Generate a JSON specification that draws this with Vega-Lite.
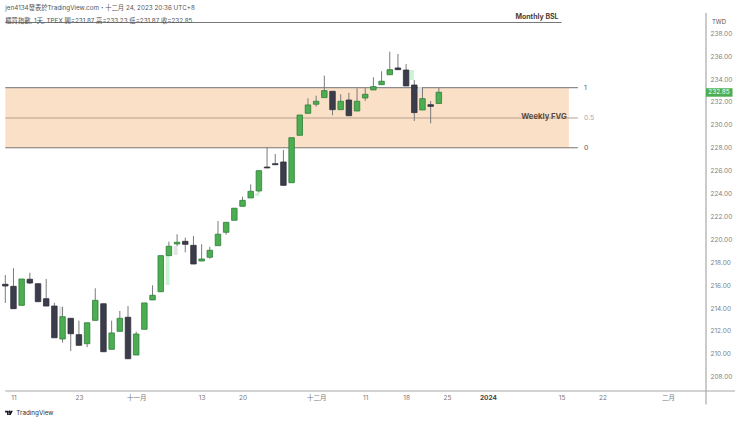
{
  "$schema": "https://vega.github.io/schema/vega-lite/v6.json",
  "width": 706,
  "height": 378,
  "autosize": "none",
  "padding": {"left": 0, "top": 13, "right": 34, "bottom": 31},
  "background": "#ffffff",
  "config": {"view": {"stroke": null}, "text": {"font": "Inter, 'Noto Sans CJK TC'"}},
  "resolve": {"scale": {"color": "independent", "strokeWidth": "independent"}},
  "datasets": {
    "candles": [
      {"i":0,"open":216.08,"high":216.89,"low":214.45,"close":215.93},
      {"i":1,"open":215.90,"high":217.48,"low":213.95,"close":213.95},
      {"i":2,"open":214.24,"high":216.54,"low":214.24,"close":216.54},
      {"i":3,"open":216.52,"high":217.09,"low":216.10,"close":216.19},
      {"i":4,"open":216.13,"high":216.13,"low":214.56,"close":214.56},
      {"i":5,"open":214.82,"high":216.54,"low":214.18,"close":214.18},
      {"i":6,"open":214.18,"high":214.47,"low":211.41,"close":211.41},
      {"i":7,"open":211.30,"high":214.12,"low":210.98,"close":213.25},
      {"i":8,"open":213.11,"high":213.11,"low":210.25,"close":211.76},
      {"i":9,"open":211.68,"high":212.90,"low":210.75,"close":210.75},
      {"i":10,"open":210.89,"high":212.72,"low":210.58,"close":212.72},
      {"i":11,"open":212.93,"high":215.73,"low":212.93,"close":214.68},
      {"i":12,"open":214.38,"high":214.38,"low":210.19,"close":210.19},
      {"i":13,"open":210.40,"high":212.90,"low":210.40,"close":211.83},
      {"i":14,"open":211.97,"high":213.75,"low":211.97,"close":213.11},
      {"i":15,"open":213.20,"high":214.18,"low":209.58,"close":209.58},
      {"i":16,"open":209.90,"high":211.94,"low":209.90,"close":211.74},
      {"i":17,"open":212.15,"high":214.45,"low":212.15,"close":214.45},
      {"i":18,"open":214.71,"high":215.99,"low":214.71,"close":215.12},
      {"i":19,"open":215.43,"high":218.58,"low":215.43,"close":218.58},
      {"i":20,"open":218.58,"high":219.80,"low":218.58,"close":219.40},
      {"i":21,"open":219.60,"high":220.45,"low":219.42,"close":219.75},
      {"i":22,"open":219.83,"high":220.15,"low":218.87,"close":219.57},
      {"i":23,"open":219.48,"high":220.30,"low":217.85,"close":217.85},
      {"i":24,"open":218.11,"high":219.57,"low":218.11,"close":218.29},
      {"i":25,"open":218.44,"high":219.36,"low":218.31,"close":219.05},
      {"i":26,"open":219.45,"high":221.61,"low":219.45,"close":220.45},
      {"i":27,"open":220.62,"high":221.49,"low":220.41,"close":221.49},
      {"i":28,"open":221.67,"high":222.72,"low":221.67,"close":222.72},
      {"i":29,"open":222.89,"high":223.73,"low":222.89,"close":223.41},
      {"i":30,"open":223.62,"high":224.81,"low":223.62,"close":224.20},
      {"i":31,"open":224.23,"high":226.00,"low":224.08,"close":226.00},
      {"i":32,"open":226.32,"high":228.04,"low":226.24,"close":226.24},
      {"i":33,"open":226.61,"high":227.46,"low":226.52,"close":226.52},
      {"i":34,"open":226.76,"high":227.81,"low":224.72,"close":224.72},
      {"i":35,"open":224.95,"high":228.88,"low":224.95,"close":228.88},
      {"i":36,"open":229.09,"high":230.86,"low":229.09,"close":230.86},
      {"i":37,"open":231.01,"high":232.32,"low":231.01,"close":231.74},
      {"i":38,"open":231.80,"high":232.55,"low":231.59,"close":232.06},
      {"i":39,"open":232.38,"high":234.30,"low":232.38,"close":232.99},
      {"i":40,"open":232.93,"high":232.93,"low":230.84,"close":231.33},
      {"i":41,"open":231.33,"high":232.67,"low":231.33,"close":232.06},
      {"i":42,"open":232.17,"high":232.79,"low":230.80,"close":230.80},
      {"i":43,"open":231.21,"high":233.20,"low":231.21,"close":232.06},
      {"i":44,"open":232.35,"high":233.25,"low":232.09,"close":232.67},
      {"i":45,"open":233.05,"high":234.16,"low":233.05,"close":233.34},
      {"i":46,"open":233.51,"high":234.68,"low":233.51,"close":233.81},
      {"i":47,"open":234.38,"high":236.39,"low":234.38,"close":234.82},
      {"i":48,"open":234.97,"high":236.19,"low":234.82,"close":234.82},
      {"i":49,"open":234.79,"high":235.32,"low":233.40,"close":233.40},
      {"i":50,"open":233.48,"high":233.92,"low":230.34,"close":231.07},
      {"i":51,"open":231.30,"high":233.25,"low":231.30,"close":232.29},
      {"i":52,"open":231.76,"high":232.09,"low":230.14,"close":231.62},
      {"i":53,"open":231.87,"high":233.23,"low":231.87,"close":232.85}
    ],
    "ghosts": [
      {"i":19.85,"top":218.58,"bottom":216.02,"tone":"green"},
      {"i":30.8,"top":224.05,"bottom":223.79,"tone":"green"},
      {"i":49.7,"top":234.79,"bottom":233.92,"tone":"green"},
      {"i":6.8,"top":214.12,"bottom":213.25,"tone":"gray"},
      {"i":20.83,"top":219.42,"bottom":218.64,"tone":"gray"},
      {"i":50.7,"top":233.3,"bottom":232.79,"tone":"gray"}
    ]
  },
  "encoding": {
    "x": {
      "field": "i",
      "type": "quantitative",
      "scale": {"domain": [-0.648, 85.66], "nice": false, "zero": false, "padding": 0},
      "axis": {
        "title": null,
        "grid": false,
        "domain": false,
        "ticks": false,
        "values": [1, 9, 16, 24, 29, 38, 44, 49, 54, 59, 68, 73, 81],
        "labelExpr": "{'1':'11','9':'23','16':'十一月','24':'13','29':'20','38':'十二月','44':'11','49':'18','54':'25','59':'2024','68':'15','73':'22','81':'二月'}[datum.value]",
        "labelFont": "Inter, 'Noto Sans CJK TC'",
        "labelFontSize": 6.5,
        "labelColor": {"condition": {"test": "datum.value == 59", "value": "#444444"}, "value": "#777777"},
        "labelFontWeight": {"condition": {"test": "datum.value == 59", "value": "bold"}, "value": "normal"},
        "labelPadding": 3,
        "labelOverlap": false,
        "labelFlush": false,
        "labelBound": false
      }
    },
    "y": {
      "type": "quantitative",
      "scale": {"domain": [206.76, 239.77], "nice": false, "zero": false, "padding": 0},
      "axis": {
        "title": null,
        "orient": "right",
        "grid": false,
        "domain": false,
        "ticks": false,
        "values": [208, 210, 212, 214, 216, 218, 220, 222, 224, 226, 228, 230, 232, 234, 236, 238],
        "format": ".2f",
        "labelFont": "Inter, 'Noto Sans CJK TC'",
        "labelFontSize": 6.5,
        "labelColor": "#808080",
        "labelPadding": 4
      }
    }
  },
  "layer": [
    {
      "data": {"values": [{"i": 0, "end": 68.9, "top": 233.25, "bottom": 228}]},
      "mark": {"type": "rect", "color": "#fbe0c8"},
      "encoding": {
        "x2": {"field": "end"},
        "y": {"field": "top"},
        "y2": {"field": "bottom"}
      }
    },
    {
      "data": {"values": [
        {"i": 0, "end": 70, "level": 233.25, "name": "1"},
        {"i": 0, "end": 70, "level": 230.6, "name": "0.5"},
        {"i": 0, "end": 70, "level": 228, "name": "0"},
        {"i": 0, "end": 68, "level": 238.94, "name": "bsl"}
      ]},
      "mark": {"type": "rule"},
      "encoding": {
        "x2": {"field": "end"},
        "y": {"field": "level"},
        "color": {
          "field": "name",
          "type": "nominal",
          "legend": null,
          "scale": {"domain": ["1", "0.5", "0", "bsl"], "range": ["#8c8c8c", "#b89f8c", "#7d746c", "#555555"]}
        },
        "strokeWidth": {
          "field": "name",
          "type": "nominal",
          "legend": null,
          "scale": {"domain": ["1", "0.5", "0", "bsl"], "range": [1.4, 0.8, 1.2, 1]}
        }
      }
    },
    {
      "data": {"values": [
        {"i": 0, "end": 89.2, "level": 206.76},
        {"i": 85.66, "end": 85.66, "level": 239.77, "level2": 205.58}
      ]},
      "mark": {"type": "rule", "color": "#a8a8a8", "strokeWidth": 1.2},
      "encoding": {
        "x2": {"field": "end"},
        "y": {"field": "level"},
        "y2": {"field": "level2"}
      }
    },
    {
      "data": {"name": "ghosts"},
      "mark": {"type": "bar", "size": 4},
      "encoding": {
        "y": {"field": "top"},
        "y2": {"field": "bottom"},
        "color": {
          "field": "tone",
          "type": "nominal",
          "legend": null,
          "scale": {"domain": ["green", "gray"], "range": ["#cdf3d6", "#e4e4e4"]}
        }
      }
    },
    {
      "data": {"name": "candles"},
      "mark": {"type": "rule", "color": "#7b7b7b", "strokeWidth": 1},
      "encoding": {
        "y": {"field": "high"},
        "y2": {"field": "low"}
      }
    },
    {
      "data": {"name": "candles"},
      "mark": {"type": "bar", "size": 5.5, "strokeWidth": 0.8},
      "encoding": {
        "y": {"field": "open"},
        "y2": {"field": "close"},
        "color": {"condition": {"test": "datum.close >= datum.open", "value": "#4cae50"}, "value": "#3b3d4b"},
        "stroke": {"condition": {"test": "datum.close >= datum.open", "value": "#2f7d3b"}, "value": "#2e2f3a"}
      }
    },
    {
      "data": {"values": [{"i": 85.66, "end": 88.9, "top": 233.2, "bottom": 232.46}]},
      "mark": {"type": "rect", "color": "#4cae50"},
      "encoding": {
        "x2": {"field": "end"},
        "y": {"field": "top"},
        "y2": {"field": "bottom"}
      }
    },
    {
      "data": {"values": [
        {"i": 0, "level": 240.21, "label": "jen4134發表於TradingView.com・十二月 24, 2023 20:36 UTC+8"},
        {"i": 0, "level": 239.07, "label": "櫃買指數, 1天, TPEX  開=231.87  高=233.23  低=231.87  收=232.85"}
      ]},
      "mark": {"type": "text", "align": "left", "baseline": "middle", "fontSize": 6.3, "color": "#555555"},
      "encoding": {"y": {"field": "level"}, "text": {"field": "label"}}
    },
    {
      "data": {"values": [{"i": 65.0, "level": 239.42, "label": "Monthly BSL"}]},
      "mark": {"type": "text", "align": "center", "baseline": "middle", "fontSize": 7, "fontWeight": "bold", "color": "#4a4038"},
      "encoding": {"y": {"field": "level"}, "text": {"field": "label"}}
    },
    {
      "data": {"values": [{"i": 65.86, "level": 230.65, "label": "Weekly FVG"}]},
      "mark": {"type": "text", "align": "center", "baseline": "middle", "fontSize": 7.7, "fontWeight": "bold", "color": "#5a4a3c"},
      "encoding": {"y": {"field": "level"}, "text": {"field": "label"}}
    },
    {
      "data": {"values": [
        {"i": 70.75, "level": 233.25, "label": "1", "tone": "dark"},
        {"i": 70.75, "level": 230.6, "label": "0.5", "tone": "light"},
        {"i": 70.75, "level": 228, "label": "0", "tone": "dark"}
      ]},
      "mark": {"type": "text", "align": "left", "baseline": "middle", "fontSize": 6.8},
      "encoding": {
        "y": {"field": "level"},
        "text": {"field": "label"},
        "color": {"condition": {"test": "datum.tone == 'light'", "value": "#a8a8a8"}, "value": "#555555"}
      }
    },
    {
      "data": {"values": [{"i": 87.25, "level": 238.99, "label": "TWD"}]},
      "mark": {"type": "text", "align": "center", "baseline": "middle", "fontSize": 6, "color": "#555555"},
      "encoding": {"y": {"field": "level"}, "text": {"field": "label"}}
    },
    {
      "data": {"values": [{"i": 87.25, "level": 232.83, "label": "232.85"}]},
      "mark": {"type": "text", "align": "center", "baseline": "middle", "fontSize": 6.5, "color": "#ffffff"},
      "encoding": {"y": {"field": "level"}, "text": {"field": "label"}}
    },
    {
      "data": {"values": [{"i": 0.45, "level": 204.84}]},
      "mark": {
        "type": "point",
        "filled": true,
        "opacity": 1,
        "color": "#131722",
        "size": 60,
        "shape": "M-1,-0.55 H-0.1 V0.55 H-0.5 V-0.1 H-1 Z M0.45,-0.55 H1 L0.45,0.55 H-0.1 Z M-0.02,-0.3 A0.2,0.2 0 1,1 0.3,-0.3 A0.2,0.2 0 1,1 -0.02,-0.3 Z"
      },
      "encoding": {"y": {"field": "level"}}
    },
    {
      "data": {"values": [{"i": 1.35, "level": 204.84, "label": "TradingView"}]},
      "mark": {"type": "text", "align": "left", "baseline": "middle", "fontSize": 6.3, "color": "#2a2e39"},
      "encoding": {"y": {"field": "level"}, "text": {"field": "label"}}
    }
  ]
}
